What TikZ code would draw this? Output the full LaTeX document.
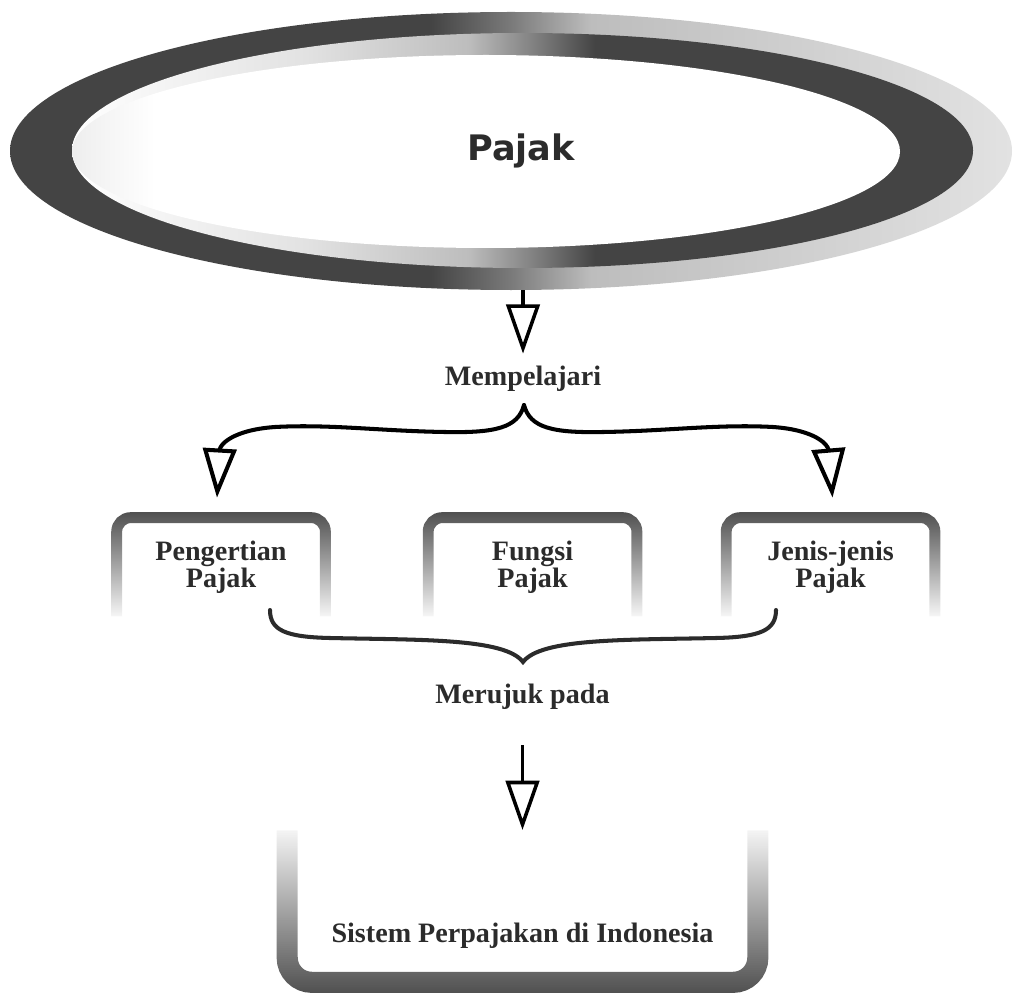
\documentclass[tikz,border=0pt]{standalone}
\usepackage{fontspec}
\setmainfont{Liberation Serif}
\newfontfamily\pajakfont{DejaVu Sans}
\usetikzlibrary{arrows.meta, shapes.geometric, fadings, calc}
\definecolor{ringdark}{HTML}{444444}
\definecolor{ringmid}{HTML}{7A7A7A}
\definecolor{ringlight}{HTML}{BDBDBD}
\definecolor{ringpale}{HTML}{E2E2E2}
\definecolor{framegray}{HTML}{505050}
\definecolor{inkgray}{HTML}{2B2B2B}
\pgfdeclarehorizontalshading{ringouter}{100bp}{color(0bp)=(ringdark); color(25bp)=(ringdark); color(46bp)=(ringdark); color(50bp)=(ringmid); color(54bp)=(ringlight); color(75bp)=(ringpale); color(100bp)=(ringpale)}
\pgfdeclarehorizontalshading{ringinner}{100bp}{color(0bp)=(white); color(25bp)=(white); color(38bp)=(ringpale); color(47bp)=(ringlight); color(51bp)=(ringmid); color(54bp)=(ringdark); color(100bp)=(ringdark)}
\pgfdeclarehorizontalshading{ringcore}{100bp}{color(0bp)=(ringpale!60); color(25bp)=(ringpale!60); color(30bp)=(white); color(100bp)=(white)}
\tikzfading[name=capfade, top color=transparent!0, middle color=transparent!40, bottom color=transparent!100]
\tikzfading[name=risefade, top color=transparent!100, middle color=transparent!20, bottom color=transparent!0]

\begin{document}
\begin{tikzpicture}[x=0.02cm, y=-0.02cm,
    linkword/.style={font=\fontsize{16pt}{15.5pt}\selectfont\bfseries, text=inkgray,
      inner sep=2pt, align=center},
    topic/.style={linkword, minimum width=4.16cm, minimum height=1.96cm, inner sep=0pt},
    ring/.style={ellipse, minimum width=20.04cm, minimum height=5.56cm, inner sep=0pt,
      font=\pajakfont\fontsize{20pt}{24pt}\selectfont\bfseries, text=inkgray},
    capline/.style={framegray, line width=6.2pt, rounded corners=8pt, path fading=capfade},
    cupline/.style={framegray, line width=12pt, rounded corners=14pt, path fading=risefade},
    tri/.style={-{Triangle[open, length=28pt, width=19pt]}, line width=2pt, black},
    brace/.style={line width=2.3pt, line cap=round},
  ]
  \useasboundingbox (0,0) rectangle (1026,1003);

  % ring round the title
  \shade[shading=ringouter] (511,151) ellipse [x radius=501, y radius=139];
  \shade[shading=ringinner] (522.5,150.5) ellipse [x radius=450.5, y radius=117.5];
  \shade[shading=ringcore] (486,151.5) ellipse [x radius=414, y radius=96.5];
  \node[ring] (ring) at (521,151) {Pajak};

  \node[linkword] (mp) at (523,379) {Mempelajari};
  \node[topic] (p1) at (221,567) {Pengertian\\Pajak};
  \node[topic] (p2) at (532.5,567) {Fungsi\\Pajak};
  \node[topic] (p3) at (830.5,567) {Jenis-jenis\\Pajak};
  \node[linkword] (mr) at (522.5,697) {Merujuk pada};
  \node[linkword, minimum width=9.4cm, minimum height=1.84cm, inner sep=0pt] (sys) at (522.5,936) {Sistem Perpajakan di Indonesia};

  % frames
  \foreach \n in {p1,p2,p3}
    \draw[capline] (\n.south west) -- (\n.north west) -- (\n.north east) -- (\n.south east);
  \draw[cupline] ($(sys.south west)+(0,-152)$) -- (sys.south west) -- (sys.south east) -- ($(sys.south east)+(0,-152)$);

  % arrows
  \draw[tri, shorten >=5pt] (ring.south -| mp.north) -- (mp.north);
  \coordinate (fork) at (524,405);
  \draw[tri, brace] (fork) .. controls (518,428) and (495,433) .. (445,432)
    .. controls (380,431) and (330,424) .. (275,427)
    .. controls (232,430) and (220,445) .. ($(p1.north)+(-4,-20)$);
  \draw[tri, brace] (fork) .. controls (530,428) and (553,433) .. (603,432)
    .. controls (668,431) and (718,424) .. (773,427)
    .. controls (816,430) and (828,445) .. ($(p3.north)+(2,-20)$);

  \coordinate (lb1) at (270,610);
  \coordinate (lbt) at (523,662);
  \coordinate (lb2) at (776,610);
  \draw[brace, inkgray] (lb1) .. controls (270,630) and (285,637) .. (330,638)
    .. controls (420,640) and (505,638) .. (lbt)
    .. controls (541,638) and (626,640) .. (716,638)
    .. controls (761,637) and (776,630) .. (lb2);

  \draw[tri, shorten <=18pt, shorten >=34pt] (mr.south) -- (mr.south |- sys.north);
\end{tikzpicture}
\end{document}
